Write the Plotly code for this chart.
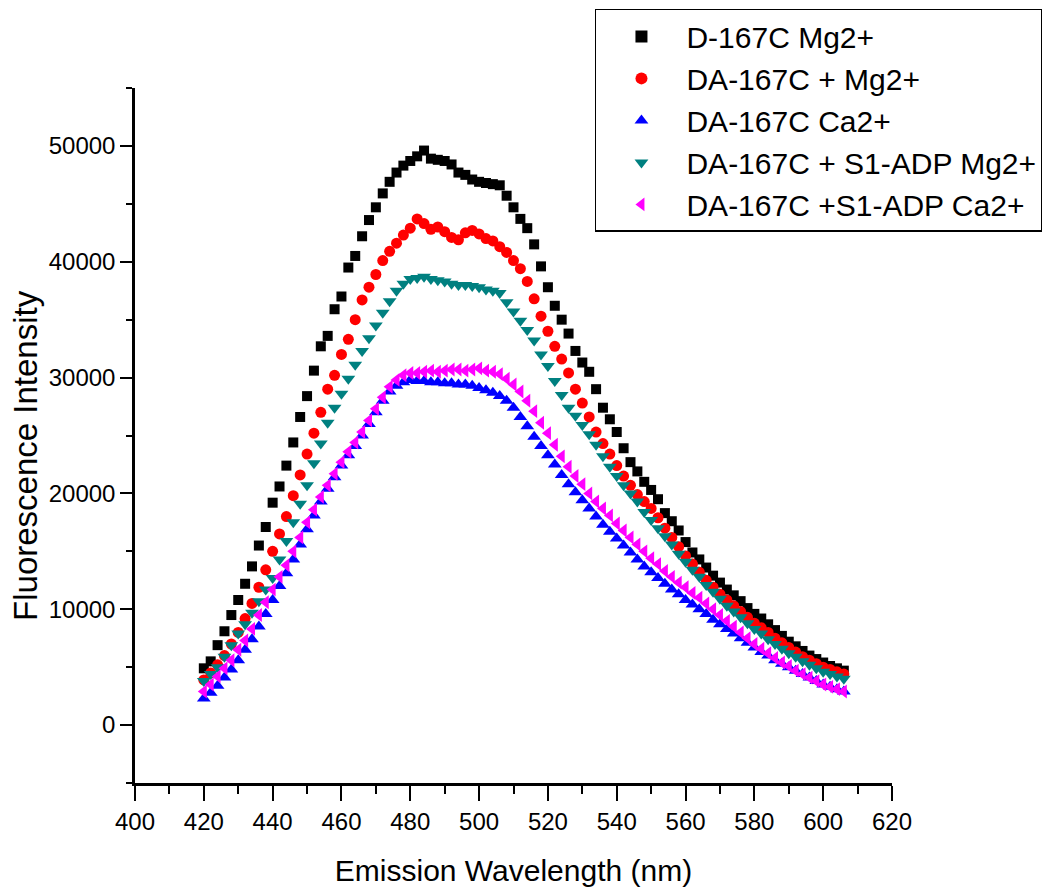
import plotly.graph_objects as go

wavelength = list(range(420, 607, 2))

d167c_mg = [
    4900, 5500, 6900, 8100, 9500, 10800, 12200, 13700, 15500, 17100,
    19200, 20600, 22400, 24400, 26600, 28400, 30600, 32700, 33600, 35900,
    37000, 39500, 40500, 42200, 43600, 44700, 45900, 46900, 47700, 48300,
    48700, 49100, 49600, 48900, 48800, 48700, 48400, 47700, 47500, 47100,
    46900, 46800, 46700, 46600, 45700, 44700, 43700, 42900, 41500, 39600,
    37800, 36200, 35000, 33800, 32300, 31300, 30500, 29000, 27400, 26400,
    25300, 23900, 22700, 21900, 21000, 20300, 19500, 18300, 17600, 16800,
    15800, 14900, 14300, 13600, 12900, 12300, 11700, 11200, 10700, 10100,
    9600, 9200, 8700, 8200, 7700, 7200, 6800, 6400, 6000, 5700,
    5400, 5100, 4900, 4700,
]

da167c_mg = [
    3900, 4500, 5200, 6000, 7000, 8000, 9200, 10500, 11900, 13400,
    15000, 16500, 18000, 19800, 21600, 23400, 25200, 27000, 29000, 30200,
    32000, 33300, 35000, 36700, 37800, 38900, 40100, 40900, 41600, 42300,
    42900, 43700, 43300, 42800, 43000, 42600, 42100, 41900, 42500, 42700,
    42400, 42000, 41800, 41300, 40800, 40100, 39400, 38300, 36800, 35300,
    34000, 32700, 31600, 30400, 29000, 27800, 26600, 25300, 24300, 23400,
    22400, 21500, 20700, 19900, 19300, 18700, 17900, 17000, 16200, 15400,
    14600, 13900, 13200, 12500, 11900, 11300, 10800, 10300, 9800, 9300,
    8800, 8400, 8000, 7500, 7100, 6700, 6300, 5900, 5600, 5300,
    5000, 4800, 4600, 4400,
]

da167c_ca = [
    2300, 2800, 3400, 4100, 4800, 5600, 6500, 7400, 8500, 9600,
    10800, 12000, 13100, 14300, 15600, 16900, 18100, 19300, 20400, 21400,
    22400, 23300, 24100, 25000, 26000, 27000, 28000, 28800, 29300, 29600,
    29800, 29700, 29700, 29600, 29600, 29500, 29500, 29400, 29400, 29300,
    29100, 28900, 28700, 28400, 28000, 27400, 26600, 25800, 24900, 24100,
    23300, 22500, 21600, 20800, 20100, 19400, 18700, 18000, 17300, 16700,
    16100, 15500, 14900, 14300, 13700, 13200, 12700, 12200, 11700, 11300,
    10800, 10400, 10000, 9600, 9100, 8700, 8300, 7900, 7500, 7100,
    6700, 6300, 6000, 5600, 5300, 5000, 4700, 4400, 4100, 3800,
    3500, 3300, 3100, 2900,
]

da167c_s1_mg = [
    3800, 4400, 5000, 5900, 6900, 7900, 8700, 9700, 10700, 11700,
    12700, 14300, 15900, 17500, 19100, 20700, 22600, 24300, 26100, 27400,
    28600, 29900, 31100, 32300, 33400, 34500, 35600, 36600, 37500, 38100,
    38500, 38600, 38700, 38500, 38400, 38300, 38100, 38000, 38000, 37900,
    37800, 37600, 37500, 37300, 36500, 35700, 34900, 34100, 33200, 32000,
    31000, 29700, 28500, 27400, 26700, 25900, 25100, 24200, 23200, 22300,
    21500, 20700, 20000, 19300, 18400, 17700, 17000, 16300, 15600, 14800,
    14100, 13400, 12800, 12100, 11500, 10900, 10300, 9800, 9300, 8800,
    8300, 7900, 7400, 7000, 6600, 6200, 5900, 5500, 5200, 4900,
    4600, 4400, 4200, 4000,
]

da167c_s1_ca = [
    2900, 3500, 4200, 4900, 5600, 6500, 7300, 8300, 9500, 10600,
    11700, 12800, 13800, 15000, 16200, 17500, 18600, 19700, 20700, 21700,
    22700, 23600, 24400, 25300, 26300, 27300, 28300, 29200, 29800, 30200,
    30400, 30400, 30500, 30600, 30500, 30600, 30700, 30700, 30600, 30700,
    30800, 30600, 30500, 30300, 29900, 29400, 28800, 28000, 27100, 26100,
    25200, 24200, 23200, 22300, 21500, 20800, 20000, 19300, 18700, 18100,
    17400, 16800, 16200, 15600, 15000, 14400, 13900, 13300, 12800, 12300,
    11900, 11400, 11000, 10500, 10000, 9500, 9000, 8500, 8000, 7500,
    7000, 6600, 6200, 5800, 5400, 5100, 4700, 4400, 4100, 3800,
    3500, 3300, 3100, 2900,
]

series = [
    ("D-167C Mg2+", d167c_mg, "#000000", "square", 10),
    ("DA-167C + Mg2+", da167c_mg, "#FF0000", "circle", 11),
    ("DA-167C Ca2+", da167c_ca, "#0000FF", "triangle-up", 12),
    ("DA-167C + S1-ADP Mg2+", da167c_s1_mg, "#008080", "triangle-down", 12),
    ("DA-167C +S1-ADP Ca2+", da167c_s1_ca, "#FF00FF", "triangle-left", 12),
]

FONT = "Liberation Sans, Arial, sans-serif"

fig = go.Figure()
for name, vals, color, sym, size in series:
    fig.add_trace(go.Scatter(
        x=wavelength, y=vals, mode="markers", name=name,
        marker=dict(symbol=sym, size=size, color=color, line=dict(width=0)),
    ))

fig.update_layout(
    width=1042, height=879, autosize=False,
    margin=dict(l=127, r=158, t=80, b=104, autoexpand=False),
    paper_bgcolor="white", plot_bgcolor="white",
    font=dict(family=FONT, color="black"),
    showlegend=True,
    legend=dict(
        xref="container", yref="container",
        x=0.5633, y=0.999, xanchor="left", yanchor="top",
        bordercolor="black", borderwidth=1.5, bgcolor="white",
        font=dict(family=FONT, size=30, color="black"),
        itemsizing="constant", itemwidth=80,
    ),
    xaxis=dict(
        range=[400, 620], tick0=400, dtick=20,
        ticks="outside", ticklen=15, tickwidth=2, tickcolor="black",
        showline=True, linewidth=2.5, linecolor="black", mirror=False,
        showgrid=False, zeroline=False,
        minor=dict(dtick=10, ticks="outside", ticklen=8, tickwidth=2,
                   tickcolor="black", showgrid=False),
        tickfont=dict(family=FONT, size=24, color="black"),
        title=dict(text="Emission Wavelength (nm)",
                   font=dict(family=FONT, size=30, color="black"), standoff=29),
    ),
    yaxis=dict(
        range=[-5000, 55000], tick0=0, dtick=10000, tickformat="d",
        ticks="outside", ticklen=12, tickwidth=2, tickcolor="black",
        showline=True, linewidth=2.5, linecolor="black", mirror=False,
        showgrid=False, zeroline=False,
        minor=dict(dtick=5000, ticks="outside", ticklen=6, tickwidth=2,
                   tickcolor="black", showgrid=False),
        tickfont=dict(family=FONT, size=24, color="black"),
    ),
    annotations=[dict(
        text="Fluorescence Intensity", textangle=-90,
        xref="paper", yref="paper", x=-0.1440, y=0.472,
        xanchor="center", yanchor="middle", showarrow=False,
        font=dict(family=FONT, size=33, color="black"),
    )],
)

fig.write_html("out.html")
